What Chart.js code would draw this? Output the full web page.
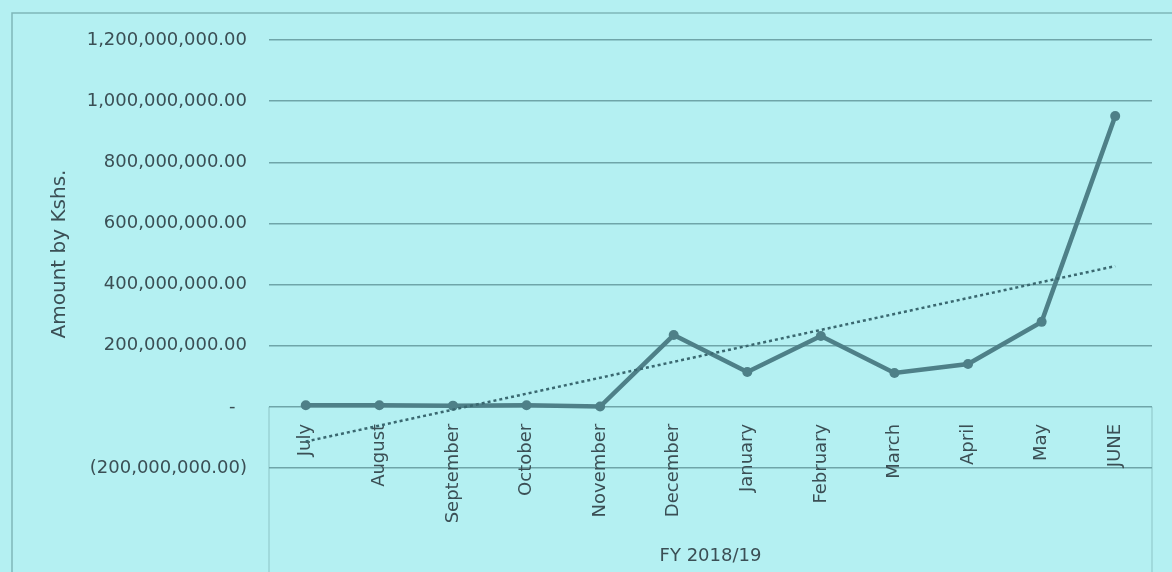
<!DOCTYPE html>
<html>
<head>
<meta charset="utf-8">
<script src="https://cdn.jsdelivr.net/npm/chart.js@4/dist/chart.umd.min.js"></script>
<style>
  html, body { margin: 0; padding: 0; background: #b4f0f2; }
  #wrap { width: 1172px; height: 572px; position: relative; }
</style>
</head>
<body>
<div id="wrap"><canvas id="amountChart"></canvas></div>
<script>
// months of FY 2018/19 and the amounts (Kshs)
const months = ['July', 'August', 'September', 'October', 'November', 'December',
  'January', 'February', 'March', 'April', 'May', 'JUNE'];
const amounts = [5e6, 5e6, 4e6, 5e6, 1e6, 235e6, 114e6, 232e6, 111e6, 140e6, 278e6, 951e6];
const yMin = -200e6;
const yMax = 1200e6;
const yStep = 200e6;

// linear trendline (least squares over the month index), like Excel's
const n = amounts.length;
const xMean = (n + 1) / 2;
const yMean = amounts.reduce((a, b) => a + b, 0) / n;
let sxy = 0, sxx = 0;
amounts.forEach((v, i) => {
  sxy += (i + 1 - xMean) * (v - yMean);
  sxx += (i + 1 - xMean) * (i + 1 - xMean);
});
const slope = sxy / sxx;
const trend = amounts.map((v, i) => yMean + slope * (i + 1 - xMean));

const textColor = '#3b4f55';
const gridColor = '#6fa5a9';
const lineColor = '#4e8088';

function accounting(value) {
  if (value === 0) return '-  ';
  const s = Math.abs(value).toLocaleString('en-US', {minimumFractionDigits: 2, maximumFractionDigits: 2});
  return value < 0 ? '(' + s + ')' : s;
}

// outer frame and the plot-area edges below the zero line
const framePlugin = {
  id: 'frame',
  beforeDraw(chart) {
    const ctx = chart.ctx;
    const area = chart.chartArea;
    const zero = chart.scales.y.getPixelForValue(0);
    ctx.save();
    ctx.strokeStyle = '#7fb6b9';
    ctx.lineWidth = 1.5;
    ctx.strokeRect(12, 13, chart.width + 20, chart.height + 20);
    ctx.strokeStyle = '#8cc4c6';
    ctx.lineWidth = 1;
    ctx.beginPath();
    ctx.moveTo(area.left, zero);
    ctx.lineTo(area.left, chart.height);
    ctx.moveTo(area.right, zero);
    ctx.lineTo(area.right, chart.height);
    ctx.stroke();
    ctx.restore();
  }
};

Chart.defaults.font.family = 'DejaVu Sans';
Chart.defaults.color = textColor;

const config = {
  type: 'line',
  data: {
    labels: months,
    datasets: [
      {
        label: 'Amount',
        data: amounts,
        borderColor: lineColor,
        backgroundColor: lineColor,
        borderWidth: 4.5,
        pointRadius: 5,
        pointBorderWidth: 0,
        tension: 0,
        order: 1
      },
      {
        label: 'Trend',
        data: trend,
        borderColor: '#3a6870',
        borderWidth: 2.5,
        borderDash: [3, 3],
        pointRadius: 0,
        fill: false,
        order: 0
      }
    ]
  },
  options: {
    responsive: true,
    maintainAspectRatio: false,
    animation: false,
    layout: {
      padding: { left: 0, top: 40, right: 20, bottom: 104 }
    },
    plugins: {
      legend: { display: false },
      tooltip: { enabled: false }
    },
    scales: {
      x: {
        type: 'category',
        position: { y: 0 },
        offset: true,
        grid: { display: false, drawTicks: false },
        border: { display: false },
        ticks: {
          minRotation: 90,
          maxRotation: 90,
          autoSkip: false,
          padding: 17,
          font: { size: 18 }
        },
        title: {
          display: true,
          text: 'FY 2018/19',
          font: { size: 18 },
          padding: { top: 5, bottom: 0 }
        }
      },
      y: {
        min: yMin,
        max: yMax,
        afterFit(scale) { scale.width = 269; },
        grid: { color: gridColor, lineWidth: 1.5, drawTicks: false },
        border: { display: false },
        ticks: {
          stepSize: yStep,
          padding: 22,
          font: { size: 18 },
          callback: (v) => accounting(v)
        },
        title: {
          display: true,
          text: 'Amount by Kshs.',
          font: { size: 20 },
          padding: { top: 48, bottom: 0 }
        }
      }
    }
  },
  plugins: [framePlugin]
};

const amountChart = new Chart(document.getElementById('amountChart'), config);
</script>
</body>
</html>
